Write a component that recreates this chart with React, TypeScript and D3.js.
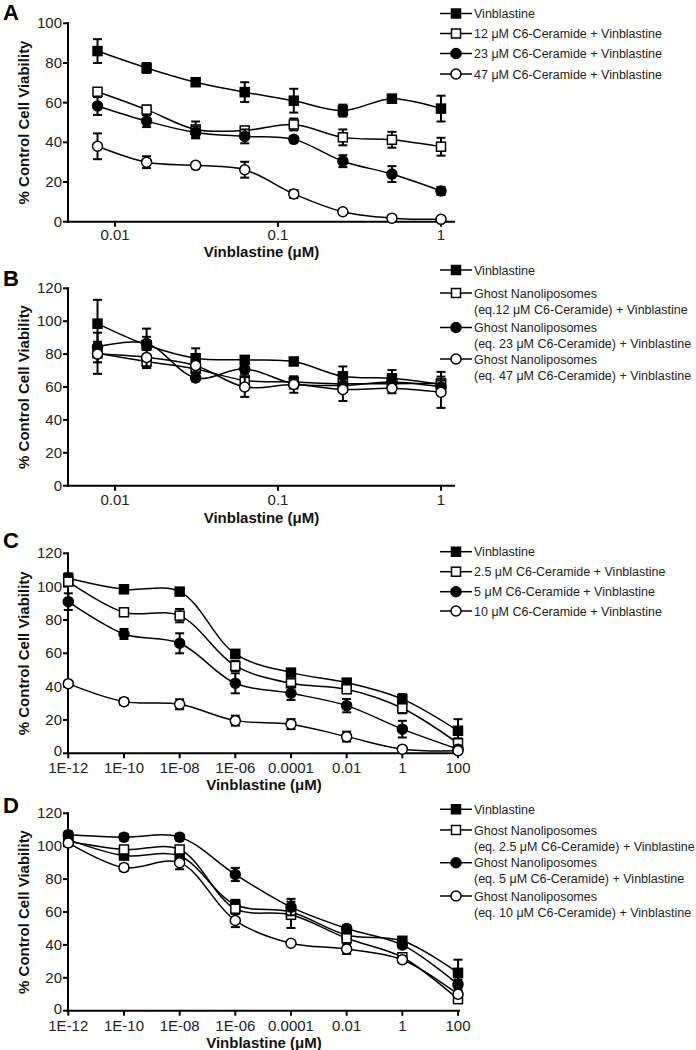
import React from "react";
import * as d3 from "d3";

const xAB = [0.0078125, 0.015625, 0.03125, 0.0625, 0.125, 0.25, 0.5, 1];
const xCD = [1e-12, 1e-10, 1e-8, 1e-6, 1e-4, 0.01, 1, 100];

const ticksAB = [0.01, 0.1, 1];
const tickLabelsAB = ["0.01", "0.1", "1"];
const ticksCD = [1e-12, 1e-10, 1e-8, 1e-6, 1e-4, 0.01, 1, 100];
const tickLabelsCD = ["1E-12", "1E-10", "1E-08", "1E-06", "0.0001", "0.01", "1", "100"];

// Panel A
const aVin = [86, 77.5, 70.3, 65.3, 61, 56, 62, 57];
const aVinErr = [6, 2.5, 1.5, 5, 6, 3, 2, 6.5];
const a12 = [65.5, 56.5, 46.5, 46, 49, 42.5, 41.3, 37.8];
const a12Err = [1.5, 2, 4, 1.5, 3, 4, 4, 4.5];
const a23 = [58.3, 50.7, 45, 43, 41.5, 30.5, 24, 15.5];
const a23Err = [4.5, 3, 3, 3.5, 1.5, 3, 4, 2];
const a47 = [38, 30, 28.4, 26.2, 14, 5, 1.8, 1.2];
const a47Err = [6.5, 3, 1.5, 4, 2, 1, 0.5, 0.5];

// Panel B
const bVin = [98.5, 85.5, 77.5, 76.5, 75.5, 66.5, 65.3, 61.5];
const bVinErr = [14.5, 10, 6, 2, 1.5, 6, 5, 2];
const b12 = [80.5, 75.5, 71, 64, 63, 62, 62, 62.2];
const b12Err = [12.5, 4, 5, 5, 3, 3, 3, 7];
const b23 = [84.5, 86.5, 65.5, 71, 62, 61, 63, 60];
const b23Err = [3, 4, 2, 3, 3, 4, 3, 4];
const b47 = [80, 78, 73, 60, 61.5, 58.5, 59.2, 56.8];
const b47Err = [5, 6, 4, 6, 5, 7, 3, 9.5];

// Panel C
const cVin = [105, 98.4, 97, 59.6, 48.4, 42.4, 32.5, 13.5];
const cVinErr = [3, 1.5, 1.5, 2.5, 2, 2, 3, 7];
const c25 = [103, 84.6, 82.6, 52.4, 42, 38.4, 27, 6];
const c25Err = [2, 2, 4, 3, 2, 2, 3, 3];
const c5 = [91, 71.6, 66, 42, 36, 28.6, 14.5, 2.5];
const c5Err = [5, 3, 6, 6, 4, 4, 5, 1];
const c10 = [41.8, 31, 29.4, 19.6, 17.5, 10, 2.5, 1.5];
const c10Err = [1, 2, 3, 3, 3, 3, 1, 0.5];

// Panel D
const dVin = [104, 94.3, 94, 64.4, 60, 46, 42.5, 23];
const dVinErr = [2, 2, 2, 3, 2, 2, 2, 8];
const d25 = [103, 98, 98, 62, 58.3, 44, 32.5, 7];
const d25Err = [2, 2, 2, 2, 8, 2, 2, 2];
const d5 = [107, 105.5, 105.5, 82.8, 63, 50, 40, 16];
const d5Err = [2, 2, 2, 4, 5, 2, 2, 3];
const d10 = [102, 87, 90, 54.8, 41, 37.5, 31, 10];
const d10Err = [2, 2, 4, 4, 1, 3, 2, 2];

const legendA = [["Vinblastine"], ["12 \u03bcM C6-Ceramide + Vinblastine"], ["23 \u03bcM C6-Ceramide + Vinblastine"], ["47 \u03bcM C6-Ceramide + Vinblastine"]];
const legendB = [["Vinblastine"], ["Ghost Nanoliposomes", "(eq.12 \u03bcM C6-Ceramide) + Vinblastine"], ["Ghost Nanoliposomes", "(eq. 23 \u03bcM C6-Ceramide) + Vinblastine"], ["Ghost Nanoliposomes", "(eq. 47 \u03bcM C6-Ceramide) + Vinblastine"]];
const legendC = [["Vinblastine"], ["2.5 \u03bcM C6-Ceramide + Vinblastine"], ["5 \u03bcM C6-Ceramide + Vinblastine"], ["10 \u03bcM C6-Ceramide + Vinblastine"]];
const legendD = [["Vinblastine"], ["Ghost Nanoliposomes", "(eq. 2.5 \u03bcM C6-Ceramide) + Vinblastine"], ["Ghost Nanoliposomes", "(eq. 5 \u03bcM C6-Ceramide) + Vinblastine"], ["Ghost Nanoliposomes", "(eq. 10 \u03bcM C6-Ceramide) + Vinblastine"]];

const markers = ["fsq", "osq", "fci", "oci"];
const FONT = "Liberation Sans, Arial, Helvetica, sans-serif";

function Marker({ kind, x, y }: { kind: string; x: number; y: number }) {
  const fill = kind.startsWith("f") ? "#000" : "#fff";
  if (kind.endsWith("sq")) {
    const s = 9;
    return <rect x={x - s / 2} y={y - s / 2} width={s} height={s} fill={fill} stroke="#000" strokeWidth={1.5} />;
  }
  return <circle cx={x} cy={y} r={5} fill={fill} stroke="#000" strokeWidth={1.5} />;
}

type PanelProps = {
  letter: string;
  letterY: number;
  yTop: number;
  yBot: number;
  yMax: number;
  xs: number[];
  xDomain: [number, number];
  xRange: [number, number];
  axisRight: number;
  ticks: number[];
  tickLabels: string[];
  series: number[][];
  errs: number[][];
  legend: string[][];
  legendYs: number[];
  tickOff: number;
  titleOff: number;
  zeroShift: number;
};

function Panel(p: PanelProps) {
  const x = d3.scaleLog().domain(p.xDomain).range(p.xRange);
  const y = d3.scaleLinear().domain([0, p.yMax]).range([p.yBot, p.yTop]);
  const yTicks = d3.range(0, p.yMax + 1, 20);
  const line = d3
    .line<[number, number]>()
    .x((d) => x(d[0]))
    .y((d) => y(d[1]))
    .curve(d3.curveCatmullRom.alpha(0.5));
  const axisLeft = 68;
  return (
    <g>
      <text x={3} y={p.letterY} fontFamily={FONT} fontWeight="bold" fontSize={22} fill="#000">
        {p.letter}
      </text>
      <text
        transform={`translate(29,${(p.yTop + p.yBot) / 2}) rotate(-90)`}
        textAnchor="middle"
        fontFamily={FONT}
        fontWeight="bold"
        fontSize={15}
        fill="#111"
      >
        % Control Cell Viability
      </text>
      {/* y axis */}
      <line x1={axisLeft} x2={axisLeft} y1={p.yTop - 1} y2={p.yBot + 1} stroke="#000" strokeWidth={2} />
      {yTicks.map((t) => (
        <g key={t}>
          <line x1={axisLeft - 5} x2={axisLeft} y1={y(t)} y2={y(t)} stroke="#000" strokeWidth={2} />
          <text
            x={axisLeft - 6}
            y={y(t) + 5 - (t === 0 ? p.zeroShift : 0)}
            textAnchor="end"
            fontFamily={FONT}
            fontSize={15}
            fill="#222"
          >
            {t}
          </text>
        </g>
      ))}
      {/* x axis */}
      <line x1={axisLeft - 1} x2={p.axisRight} y1={p.yBot} y2={p.yBot} stroke="#000" strokeWidth={2} />
      {p.ticks.map((t, i) => (
        <g key={i}>
          <line x1={x(t)} x2={x(t)} y1={p.yBot} y2={p.yBot + 5} stroke="#000" strokeWidth={2} />
          <text x={x(t)} y={p.yBot + p.tickOff} textAnchor="middle" fontFamily={FONT} fontSize={15} fill="#222">
            {p.tickLabels[i]}
          </text>
        </g>
      ))}
      <text
        x={(axisLeft + p.axisRight) / 2}
        y={p.yBot + p.titleOff}
        textAnchor="middle"
        fontFamily={FONT}
        fontWeight="bold"
        fontSize={15}
        fill="#111"
      >
        Vinblastine ({"\u03bc"}M)
      </text>
      {/* series */}
      {p.series.map((vals, si) => {
        const pts = vals.map((v, i) => [p.xs[i], v] as [number, number]);
        return (
          <g key={si}>
            <path d={line(pts) || ""} fill="none" stroke="#000" strokeWidth={1.5} />
            {pts.map((d, i) => {
              const e = p.errs[si][i];
              const cx = x(d[0]);
              const y1 = y(d[1] + e);
              const y2 = y(Math.max(0, d[1] - e));
              return (
                <g key={i}>
                  <line x1={cx} x2={cx} y1={y1} y2={y2} stroke="#000" strokeWidth={2} />
                  <line x1={cx - 4.5} x2={cx + 4.5} y1={y1} y2={y1} stroke="#000" strokeWidth={2} />
                  <line x1={cx - 4.5} x2={cx + 4.5} y1={y2} y2={y2} stroke="#000" strokeWidth={2} />
                </g>
              );
            })}
            {pts.map((d, i) => (
              <Marker key={i} kind={markers[si]} x={x(d[0])} y={y(d[1])} />
            ))}
          </g>
        );
      })}
      {/* legend */}
      {p.legend.map((lines, i) => (
        <g key={i}>
          <line x1={440} x2={472} y1={p.legendYs[i]} y2={p.legendYs[i]} stroke="#000" strokeWidth={1.5} />
          <Marker kind={markers[i]} x={456} y={p.legendYs[i]} />
          {lines.map((t, j) => (
            <text key={j} x={474} y={p.legendYs[i] + 4.5 + j * 16} fontFamily={FONT} fontSize={12.5} fill="#222">
              {t}
            </text>
          ))}
        </g>
      ))}
    </g>
  );
}

export default function App() {
  const abDomain: [number, number] = [0.01, 1];
  const abRange: [number, number] = [115, 441];
  const cdDomain: [number, number] = [1e-12, 100];
  const cdRange: [number, number] = [68.3, 458];
  return (
    <svg
      width={696}
      height={1050}
      style={{ position: "absolute", left: 0, top: 0, background: "#fff" }}
    >
      <rect width={696} height={1050} fill="#fff" />
      <Panel
        letter="A"
        letterY={20}
        yTop={23.3}
        yBot={221.7}
        yMax={100}
        xs={xAB}
        xDomain={abDomain}
        xRange={abRange}
        axisRight={455}
        ticks={ticksAB}
        tickLabels={tickLabelsAB}
        series={[aVin, a12, a23, a47]}
        errs={[aVinErr, a12Err, a23Err, a47Err]}
        legend={legendA}
        legendYs={[13.5, 33.5, 53.5, 74]}
        tickOff={18.5}
        titleOff={35}
        zeroShift={0}
      />
      <Panel
        letter="B"
        letterY={286}
        yTop={288.3}
        yBot={485.7}
        yMax={120}
        xs={xAB}
        xDomain={abDomain}
        xRange={abRange}
        axisRight={455}
        ticks={ticksAB}
        tickLabels={tickLabelsAB}
        series={[bVin, b12, b23, b47]}
        errs={[bVinErr, b12Err, b23Err, b47Err]}
        legend={legendB}
        legendYs={[270, 293, 327.5, 359]}
        tickOff={19}
        titleOff={37}
        zeroShift={0}
      />
      <Panel
        letter="C"
        letterY={548}
        yTop={553.3}
        yBot={753.3}
        yMax={120}
        xs={xCD}
        xDomain={cdDomain}
        xRange={cdRange}
        axisRight={460}
        ticks={ticksCD}
        tickLabels={tickLabelsCD}
        series={[cVin, c25, c5, c10]}
        errs={[cVinErr, c25Err, c5Err, c10Err]}
        legend={legendC}
        legendYs={[551.7, 571.7, 591.7, 611]}
        tickOff={20}
        titleOff={37}
        zeroShift={2}
      />
      <Panel
        letter="D"
        letterY={813}
        yTop={813.3}
        yBot={1010.7}
        yMax={120}
        xs={xCD}
        xDomain={cdDomain}
        xRange={cdRange}
        axisRight={460}
        ticks={ticksCD}
        tickLabels={tickLabelsCD}
        series={[dVin, d25, d5, d10]}
        errs={[dVinErr, d25Err, d5Err, d10Err]}
        legend={legendD}
        legendYs={[809.3, 830, 862.7, 896]}
        tickOff={20}
        titleOff={37}
        zeroShift={2}
      />
    </svg>
  );
}
